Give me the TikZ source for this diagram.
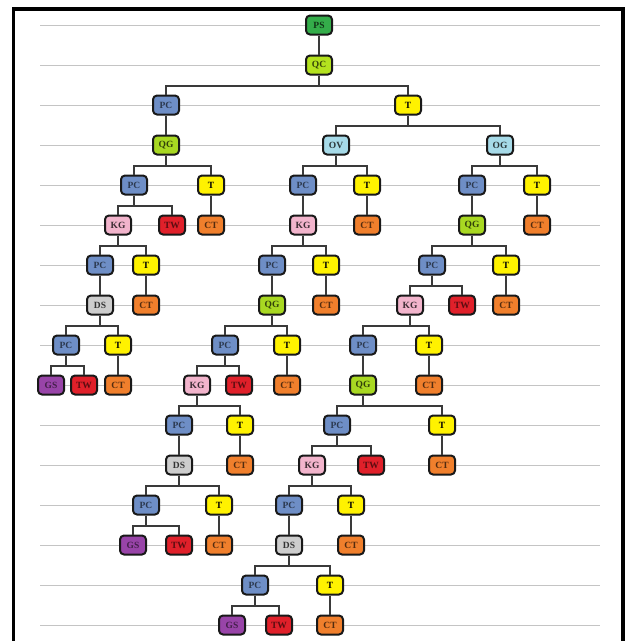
\documentclass[tikz,border=0pt]{standalone}
\usepackage{fontspec}
\setmainfont{Liberation Serif}
\definecolor{psfill}{HTML}{34AD4A}
\definecolor{qcfill}{HTML}{B4E21F}
\definecolor{qgfill}{HTML}{A8D822}
\definecolor{pcfill}{HTML}{6E8EC6}
\definecolor{tfill}{HTML}{FFF200}
\definecolor{ovfill}{HTML}{A6DAE8}
\definecolor{kgfill}{HTML}{F2B4CC}
\definecolor{twfill}{HTML}{E0202A}
\definecolor{ctfill}{HTML}{F07F2C}
\definecolor{dsfill}{HTML}{CDCDCD}
\definecolor{gsfill}{HTML}{9844A8}
\definecolor{gridc}{HTML}{C4C4C4}
\definecolor{edgec}{HTML}{3A3A3A}
\newcommand{\tedge}[2]{\draw[edge] (#1.south) -- ++(0,10.5) -| (#2.north);}
\begin{document}
\begin{tikzpicture}[x=1pt,y=-1pt,
  box/.style={draw=black!90, line width=2pt, rounded corners=4pt, minimum width=26pt, minimum height=19pt, inner sep=0pt, font=\fontsize{9.5}{10}\selectfont\bfseries},
  ps/.style={box, fill=psfill, text=psfill!30!black},
  qc/.style={box, fill=qcfill, text=qcfill!30!black},
  qg/.style={box, fill=qgfill, text=qgfill!30!black},
  pc/.style={box, fill=pcfill, text=pcfill!40!black},
  tn/.style={box, fill=tfill, text=black},
  ov/.style={box, fill=ovfill, text=ovfill!25!black},
  kg/.style={box, fill=kgfill, text=kgfill!25!black},
  tw/.style={box, fill=twfill, text=twfill!40!black},
  ct/.style={box, fill=ctfill, text=ctfill!35!black},
  ds/.style={box, fill=dsfill, text=dsfill!25!black},
  gs/.style={box, fill=gsfill, text=gsfill!45!black},
  edge/.style={draw=edgec, line width=1.4pt},
  grid/.style={draw=gridc, line width=0.9pt}]
\useasboundingbox (0,0) rectangle (631,641);
\fill[white] (0,0) rectangle (631,641);
\foreach \r in {0,...,15} {\draw[grid] (40,25+40*\r) -- (600,25+40*\r);}
\draw[line width=3.5pt, black] (13.5,9) rectangle (623,700);

\node[ps] (n0) at (319,25) {PS};
\node[qc] (n1) at (319,65) {QC};
\node[pc] (n2a) at (166,105) {PC};
\node[tn] (n2b) at (408,105) {T};
\node[qg] (n3a) at (166,145) {QG};
\node[ov] (n3b) at (336,145) {OV};
\node[ov] (n3c) at (500,145) {OG};
\node[pc] (n4a) at (134,185) {PC};
\node[tn] (n4b) at (211,185) {T};
\node[pc] (n4c) at (303,185) {PC};
\node[tn] (n4d) at (367,185) {T};
\node[pc] (n4e) at (472,185) {PC};
\node[tn] (n4f) at (537,185) {T};
\node[kg] (n5a) at (118,225) {KG};
\node[tw] (n5b) at (172,225) {TW};
\node[ct] (n5c) at (211,225) {CT};
\node[kg] (n5d) at (303,225) {KG};
\node[ct] (n5e) at (367,225) {CT};
\node[qg] (n5f) at (472,225) {QG};
\node[ct] (n5g) at (537,225) {CT};
\node[pc] (n6a) at (100,265) {PC};
\node[tn] (n6b) at (146,265) {T};
\node[pc] (n6c) at (272,265) {PC};
\node[tn] (n6d) at (326,265) {T};
\node[pc] (n6e) at (432,265) {PC};
\node[tn] (n6f) at (506,265) {T};
\node[ds] (n7a) at (100,305) {DS};
\node[ct] (n7b) at (146,305) {CT};
\node[qg] (n7c) at (272,305) {QG};
\node[ct] (n7d) at (326,305) {CT};
\node[kg] (n7e) at (410,305) {KG};
\node[tw] (n7f) at (462,305) {TW};
\node[ct] (n7g) at (506,305) {CT};
\node[pc] (n8a) at (66,345) {PC};
\node[tn] (n8b) at (118,345) {T};
\node[pc] (n8c) at (225,345) {PC};
\node[tn] (n8d) at (287,345) {T};
\node[pc] (n8e) at (363,345) {PC};
\node[tn] (n8f) at (429,345) {T};
\node[gs] (n9a) at (51,385) {GS};
\node[tw] (n9b) at (84,385) {TW};
\node[ct] (n9c) at (118,385) {CT};
\node[kg] (n9d) at (197,385) {KG};
\node[tw] (n9e) at (239,385) {TW};
\node[ct] (n9f) at (287,385) {CT};
\node[qg] (n9g) at (363,385) {QG};
\node[ct] (n9h) at (429,385) {CT};
\node[pc] (n10a) at (179,425) {PC};
\node[tn] (n10b) at (240,425) {T};
\node[pc] (n10c) at (337,425) {PC};
\node[tn] (n10d) at (442,425) {T};
\node[ds] (n11a) at (179,465) {DS};
\node[ct] (n11b) at (240,465) {CT};
\node[kg] (n11c) at (312,465) {KG};
\node[tw] (n11d) at (371,465) {TW};
\node[ct] (n11e) at (442,465) {CT};
\node[pc] (n12a) at (146,505) {PC};
\node[tn] (n12b) at (219,505) {T};
\node[pc] (n12c) at (289,505) {PC};
\node[tn] (n12d) at (351,505) {T};
\node[gs] (n13a) at (133,545) {GS};
\node[tw] (n13b) at (179,545) {TW};
\node[ct] (n13c) at (219,545) {CT};
\node[ds] (n13d) at (289,545) {DS};
\node[ct] (n13e) at (351,545) {CT};
\node[pc] (n14a) at (255,585) {PC};
\node[tn] (n14b) at (330,585) {T};
\node[gs] (n15a) at (232,625) {GS};
\node[tw] (n15b) at (279,625) {TW};
\node[ct] (n15c) at (330,625) {CT};

\tedge{n0}{n1}
\tedge{n1}{n2a} \tedge{n1}{n2b}
\tedge{n2a}{n3a}
\tedge{n2b}{n3b} \tedge{n2b}{n3c}
\tedge{n3a}{n4a} \tedge{n3a}{n4b}
\tedge{n3b}{n4c} \tedge{n3b}{n4d}
\tedge{n3c}{n4e} \tedge{n3c}{n4f}
\tedge{n4a}{n5a} \tedge{n4a}{n5b}
\tedge{n4b}{n5c}
\tedge{n4c}{n5d}
\tedge{n4d}{n5e}
\tedge{n4e}{n5f}
\tedge{n4f}{n5g}
\tedge{n5a}{n6a} \tedge{n5a}{n6b}
\tedge{n5d}{n6c} \tedge{n5d}{n6d}
\tedge{n5f}{n6e} \tedge{n5f}{n6f}
\tedge{n6a}{n7a}
\tedge{n6b}{n7b}
\tedge{n6c}{n7c}
\tedge{n6d}{n7d}
\tedge{n6e}{n7e} \tedge{n6e}{n7f}
\tedge{n6f}{n7g}
\tedge{n7a}{n8a} \tedge{n7a}{n8b}
\tedge{n7c}{n8c} \tedge{n7c}{n8d}
\tedge{n7e}{n8e} \tedge{n7e}{n8f}
\tedge{n8a}{n9a} \tedge{n8a}{n9b}
\tedge{n8b}{n9c}
\tedge{n8c}{n9d} \tedge{n8c}{n9e}
\tedge{n8d}{n9f}
\tedge{n8e}{n9g}
\tedge{n8f}{n9h}
\tedge{n9d}{n10a} \tedge{n9d}{n10b}
\tedge{n9g}{n10c} \tedge{n9g}{n10d}
\tedge{n10a}{n11a}
\tedge{n10b}{n11b}
\tedge{n10c}{n11c} \tedge{n10c}{n11d}
\tedge{n10d}{n11e}
\tedge{n11a}{n12a} \tedge{n11a}{n12b}
\tedge{n11c}{n12c} \tedge{n11c}{n12d}
\tedge{n12a}{n13a} \tedge{n12a}{n13b}
\tedge{n12b}{n13c}
\tedge{n12c}{n13d}
\tedge{n12d}{n13e}
\tedge{n13d}{n14a} \tedge{n13d}{n14b}
\tedge{n14a}{n15a} \tedge{n14a}{n15b}
\tedge{n14b}{n15c}
\end{tikzpicture}
\end{document}
